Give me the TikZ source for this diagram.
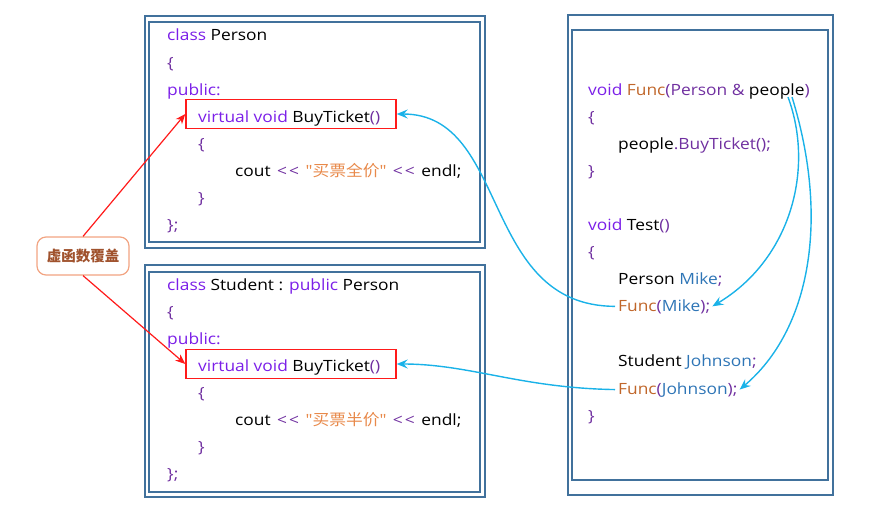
\documentclass[tikz,border=0pt]{standalone}
\usepackage{fontspec}
\setmainfont{Open Sans}[Ligatures=TeXOff,FakeStretch=1.12]
\newfontfamily\cjk{Noto Sans CJK SC}[Ligatures=TeXOff,FakeStretch=1.08]
\newfontfamily\cjklbl{Noto Sans CJK SC}
\usetikzlibrary{arrows.meta}
\definecolor{kwc}{HTML}{7B1FE8}
\definecolor{brc}{HTML}{7030A0}
\definecolor{fnc}{HTML}{C0662A}
\definecolor{vrc}{HTML}{2E75B6}
\definecolor{stc}{HTML}{E8894A}
\definecolor{boxc}{HTML}{41719C}
\definecolor{redc}{HTML}{FF1A1A}
\definecolor{bluec}{HTML}{1AB2E8}
\definecolor{lblb}{HTML}{F2A482}
\definecolor{lblt}{HTML}{A0522D}
\newcommand{\kw}[1]{\textcolor{kwc}{#1}}
\newcommand{\br}[1]{\textcolor{brc}{#1}}
\newcommand{\fn}[1]{\textcolor{fnc}{#1}}
\newcommand{\vr}[1]{\textcolor{vrc}{#1}}
\newcommand{\st}[1]{\textcolor{stc}{#1}}
\newcommand{\shl}{\kern2pt\br{<\kern2pt<}\kern2pt}
\begin{document}
\begin{tikzpicture}[x=1pt,y=-1pt,
  code/.style={anchor=base west,inner sep=0pt,font=\fontsize{15.5}{18}\selectfont},
  frame/.style={draw=boxc,line width=1.3pt},
  redbox/.style={draw=redc,line width=1.4pt,minimum width=210pt,minimum height=29pt,inner sep=0pt},
  redarr/.style={draw=redc,line width=1.2pt,-{Stealth[length=10pt,width=8pt,inset=3pt]}},
  bluearr/.style={draw=bluec,line width=1.4pt,-{Stealth[length=11pt,width=9pt,inset=4pt]}},
  lblbox/.style={draw=lblb,line width=1.2pt,rounded corners=9pt,fill=white,minimum width=92pt,minimum height=38pt,text=lblt,font=\cjklbl\fontsize{14.5}{16}\selectfont\bfseries}]
\useasboundingbox (0,0) rectangle (871,522);
% frames
\draw[frame] (145,16) rectangle (485,248);
\draw[frame] (149,22) rectangle (480,242);
\draw[frame] (145,265) rectangle (485,497);
\draw[frame] (149,272) rectangle (480,492);
\draw[frame] (568,15) rectangle (833,495);
\draw[frame] (572,30) rectangle (828,480);
% red boxes
\node[redbox] (pv) at (291,114) {};
\node[redbox] (sv) at (291,364) {};
% Person class
\node[code] (p1) at (167,41) {\kw{class} Person};
\node[code] (p2) at (167,68) {\br{\{}};
\node[code] (p3) at (167,95) {\kw{public:}};
\node[code] (p4) at (198,122) {\kw{virtual void} BuyTicket\br{()}};
\node[code] (p5) at (198,149) {\br{\{}};
\node[code] (p6) at (235,176) {cout \shl{} \st{"{\cjk 买票全价}"} \shl{} endl;};
\node[code] (p7) at (198,203) {\br{\}}};
\node[code] (p8) at (167,230) {\br{\};}};
% Student class
\node[code] (s1) at (167,290) {\kw{class} Student : \kw{public} Person};
\node[code] (s2) at (167,317) {\br{\{}};
\node[code] (s3) at (167,344) {\kw{public:}};
\node[code] (s4) at (198,371) {\kw{virtual void} BuyTicket\br{()}};
\node[code] (s5) at (198,398) {\br{\{}};
\node[code] (s6) at (235,425) {cout \shl{} \st{"{\cjk 买票半价}"} \shl{} endl;};
\node[code] (s7) at (198,452) {\br{\}}};
\node[code] (s8) at (167,479) {\br{\};}};
% right code
\node[code] (r1) at (588,95) {\kw{void} \fn{Func}\br{(Person \& }people\br{)}};
\node[code] (r2) at (588,122) {\br{\{}};
\node[code] (r3) at (618,149) {people\br{.BuyTicket();}};
\node[code] (r4) at (588,176) {\br{\}}};
\node[code] (r5) at (588,230) {\kw{void} Test\br{()}};
\node[code] (r6) at (588,257) {\br{\{}};
\node[code] (r7) at (618,284) {Person \vr{Mike}\br{;}};
\node[code] (fm) at (618,311) {\fn{Func}\br{(}\vr{Mike}\br{);}};
\node[code] (r9) at (618,366) {Student \vr{Johnson}\br{;}};
\node[code] (fj) at (618,394) {\fn{Func}\br{(}\vr{Johnson}\br{);}};
\node[code] (r11) at (588,421) {\br{\}}};
% label
\node[lblbox] (lbl) at (83,256) {虚函数覆盖};
% red arrows
\draw[redarr] (lbl.north) -- (pv.west);
\draw[redarr] (lbl.south) -- (sv.west);
% blue arrows
\coordinate (pa) at (788,97);
\coordinate (pb) at (792,97);
\draw[bluearr] ([xshift=-3pt]fm.west) .. controls (480,306) and (510,114) .. (pv.east);
\draw[bluearr] ([xshift=-3pt]fj.west) .. controls (520,388) and (470,364) .. (sv.east);
\draw[bluearr] (pa) .. controls (815,170) and (790,260) .. ([xshift=2pt]fm.east);
\draw[bluearr] (pb) .. controls (830,220) and (810,330) .. ([xshift=2pt]fj.east);
\end{tikzpicture}
\end{document}
